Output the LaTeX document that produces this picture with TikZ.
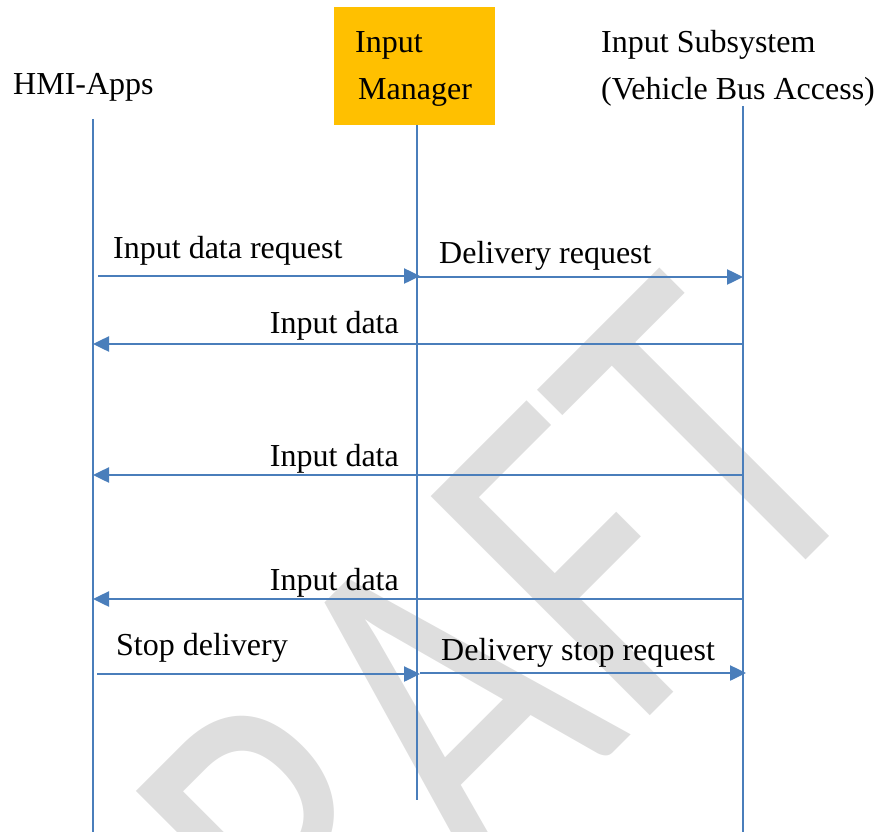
\documentclass[tikz,border=0pt]{standalone}
\usepackage{fontspec}
\setmainfont{Liberation Serif}
\newfontfamily\wmfont{Carlito}
\usetikzlibrary{arrows.meta}
\definecolor{lifeblue}{RGB}{74,126,187}
\definecolor{mgrfill}{RGB}{255,192,0}
\definecolor{wmgrey}{RGB}{222,222,222}
\begin{document}
\begin{tikzpicture}[x=1pt,y=-1pt,
  lbl/.style={inner sep=0pt, anchor=base west, font=\fontsize{32}{38}\selectfont},
  life/.style={draw=lifeblue, line width=1.5pt},
  msg/.style={draw=lifeblue, line width=2.5pt, -{Triangle[length=16pt,width=15pt]}},
]
\useasboundingbox (0,0) rectangle (883,832);
% watermark
\node[rotate=45, anchor=base east, inner sep=0pt, text=wmgrey, font=\wmfont\fontsize{373}{373}\selectfont] (wm) at (882,484) {\scalebox{1}[1.295]{DRAFT}};
% headers
\node[lbl] (hmi) at (13,95) {HMI-Apps};
\node[fill=mgrfill, minimum width=161pt, minimum height=118pt, inner sep=0pt, anchor=north west] (mgr) at (334,7) {};
\node[lbl] (mgr1) at (355,53) {Input};
\node[lbl] (mgr2) at (358,100) {Manager};
\node[lbl] (sub1) at (601,53) {Input Subsystem};
\node[lbl] (sub2) at (601,100) {(Vehicle Bus Access)};
% lifelines
\coordinate (h0) at (93,119); \coordinate (h1) at (93,832);
\coordinate (m0) at (417,125); \coordinate (m1) at (417,800);
\coordinate (s0) at (743,106); \coordinate (s1) at (743,832);
\draw[life] (h0) -- (h1);
\draw[life] (m0) -- (m1);
\draw[life] (s0) -- (s1);
% messages
\coordinate (a1s) at (98,276); \coordinate (a1e) at (420,276);
\coordinate (a2s) at (418,277); \coordinate (a2e) at (743,277);
\coordinate (a3s) at (743,344); \coordinate (a3e) at (93,344);
\coordinate (a4s) at (743,475); \coordinate (a4e) at (93,475);
\coordinate (a5s) at (743,599); \coordinate (a5e) at (93,599);
\coordinate (a6s) at (97,674); \coordinate (a6e) at (420,674);
\coordinate (a7s) at (420,673); \coordinate (a7e) at (746,673);
\draw[msg] (a1s) -- (a1e);
\draw[msg] (a2s) -- (a2e);
\draw[msg] (a3s) -- (a3e);
\draw[msg] (a4s) -- (a4e);
\draw[msg] (a5s) -- (a5e);
\draw[msg] (a6s) -- (a6e);
\draw[msg] (a7s) -- (a7e);
% message labels
\node[lbl] (l1) at (113,258) {Input data request};
\node[lbl] (l2) at (439,263) {Delivery request};
\node[lbl, anchor=base east] (l3) at (399,333) {Input data};
\node[lbl, anchor=base east] (l4) at (399,466) {Input data};
\node[lbl, anchor=base east] (l5) at (399,590) {Input data};
\node[lbl] (l6) at (116,655) {Stop delivery};
\node[lbl] (l7) at (441,660) {Delivery stop request};
\end{tikzpicture}
\end{document}
